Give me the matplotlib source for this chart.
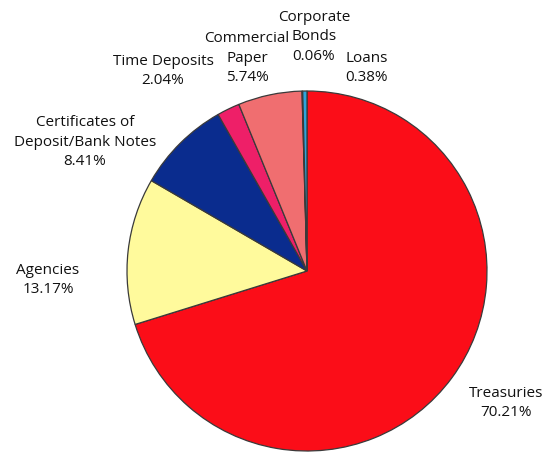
import matplotlib.pyplot as plt

# portfolio composition by security type
sectors = ['Treasuries', 'Agencies', 'Certificates of\nDeposit/Bank Notes',
           'Time Deposits', 'Commercial\nPaper', 'Corporate\nBonds', 'Loans']
shares = [70.21, 13.17, 8.41, 2.04, 5.74, 0.06, 0.38]
colors = ['#FB0D18', '#FFFA9C', '#0A2C8E', '#EE1F68', '#F06E70', '#C8B070', '#2FA4DC']

# label centres in pixel units of a 543x458 canvas
label_px = [(506, 403), (48, 280), (85, 142), (163, 71), (247, 58), (314, 37), (367, 68)]

CX, CY, R = 307, 271, 180

fig = plt.figure(figsize=(5.43, 4.58), dpi=100)
ax = fig.add_axes([0, 0, 1, 1])

ax.pie(shares, colors=colors, startangle=90, counterclock=False, radius=1.0,
       wedgeprops=dict(edgecolor='#3a3a3a', linewidth=0.9))

# pie() resets the limits, so fix the view afterwards
ax.set_xlim((0 - CX) / R, (543 - CX) / R)
ax.set_ylim((CY - 458) / R, CY / R)
ax.set_aspect('equal')
ax.axis('off')

for name, val, (px, py) in zip(sectors, shares, label_px):
    ax.text((px - CX) / R, (CY - py) / R, f'{name}\n{val:.2f}%',
            ha='center', va='center', fontsize=11, family='Open Sans',
            color='#111111', linespacing=1.38)

fig.savefig('out.png', dpi=100)
